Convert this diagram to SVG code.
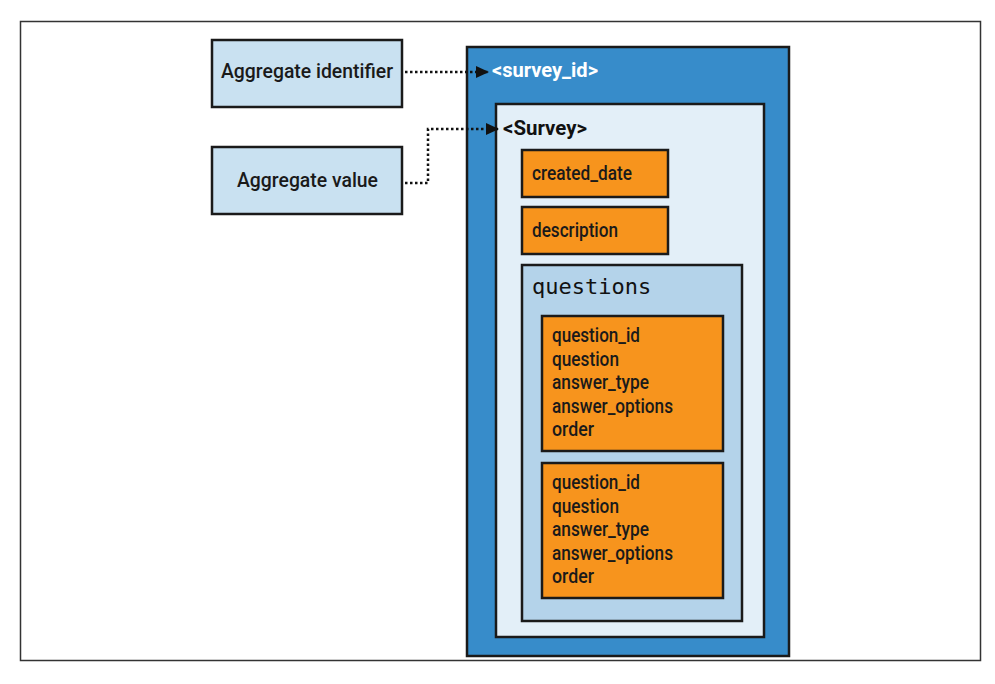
<svg xmlns="http://www.w3.org/2000/svg" width="995" height="684" viewBox="0 0 995 684">
<style>
.box{stroke:#1a1a1a;stroke-width:2.5}
.lbl{font-family:Roboto,"Liberation Sans",Arial,sans-serif;font-weight:500;font-size:21px;fill:#1a1a1a}
.b{font-weight:bold}
.mono{font-family:"DejaVu Sans Mono","Liberation Mono",monospace;font-size:22px;fill:#111}
.conn{fill:none;stroke:#111;stroke-width:2.5;stroke-dasharray:2.5,2.5}
</style>
<defs>
<marker id="arr" markerWidth="13" markerHeight="12" refX="12" refY="6" orient="auto" markerUnits="userSpaceOnUse">
<path d="M0,0 L13,6 L0,12 Z" fill="#111"/>
</marker>
</defs>
<rect width="995" height="684" fill="#fff"/>
<rect x="20.5" y="21.5" width="960" height="639" fill="none" stroke="#333" stroke-width="1.5"/>
<g id="agg-id">
<rect class="box" x="212" y="40" width="190" height="67" fill="#c9e1f1"/>
<text class="lbl" x="221" y="78" textLength="172" lengthAdjust="spacingAndGlyphs">Aggregate identifier</text>
</g>
<g id="agg-value">
<rect class="box" x="212" y="147" width="190" height="67" fill="#c9e1f1"/>
<text class="lbl" x="237" y="187" textLength="141" lengthAdjust="spacingAndGlyphs">Aggregate value</text>
</g>
<g id="survey-id">
<rect class="box" x="467" y="47" width="322" height="609" fill="#378cca"/>
<text class="lbl b" x="492" y="77" style="fill:#fff" textLength="106" lengthAdjust="spacingAndGlyphs">&lt;survey_id&gt;</text>
</g>
<g id="survey">
<rect class="box" x="496" y="104" width="268" height="533" fill="#e3eff8"/>
<text class="lbl b" x="503" y="135" style="fill:#111" textLength="84" lengthAdjust="spacingAndGlyphs">&lt;Survey&gt;</text>
</g>
<g id="created-date">
<rect class="box" x="522" y="150" width="146" height="47" fill="#f7941d"/>
<text class="lbl" x="532" y="180" textLength="100" lengthAdjust="spacingAndGlyphs">created_date</text>
</g>
<g id="description">
<rect class="box" x="522" y="207" width="146" height="47" fill="#f7941d"/>
<text class="lbl" x="532" y="237" textLength="86" lengthAdjust="spacingAndGlyphs">description</text>
</g>
<g id="questions">
<rect class="box" x="522" y="265" width="220" height="356" fill="#b4d3ea"/>
<text class="mono" x="532" y="294">questions</text>
</g>
<g id="question-1">
<rect class="box" x="542" y="316" width="181" height="135" fill="#f7941d"/>
<text class="lbl" x="552" y="342" textLength="88" lengthAdjust="spacingAndGlyphs">question_id</text>
<text class="lbl" x="552" y="366" textLength="67" lengthAdjust="spacingAndGlyphs">question</text>
<text class="lbl" x="552" y="389" textLength="97" lengthAdjust="spacingAndGlyphs">answer_type</text>
<text class="lbl" x="552" y="413" textLength="121" lengthAdjust="spacingAndGlyphs">answer_options</text>
<text class="lbl" x="552" y="436" textLength="42" lengthAdjust="spacingAndGlyphs">order</text>
</g>
<g id="question-2">
<rect class="box" x="542" y="463" width="181" height="135" fill="#f7941d"/>
<text class="lbl" x="552" y="489" textLength="88" lengthAdjust="spacingAndGlyphs">question_id</text>
<text class="lbl" x="552" y="513" textLength="67" lengthAdjust="spacingAndGlyphs">question</text>
<text class="lbl" x="552" y="536" textLength="97" lengthAdjust="spacingAndGlyphs">answer_type</text>
<text class="lbl" x="552" y="560" textLength="121" lengthAdjust="spacingAndGlyphs">answer_options</text>
<text class="lbl" x="552" y="583" textLength="42" lengthAdjust="spacingAndGlyphs">order</text>
</g>
<g id="connectors">
<path class="conn" d="M405,72 H488" marker-end="url(#arr)"/>
<path class="conn" d="M405,183 H428 V129 H498" marker-end="url(#arr)"/>
</g>
</svg>
